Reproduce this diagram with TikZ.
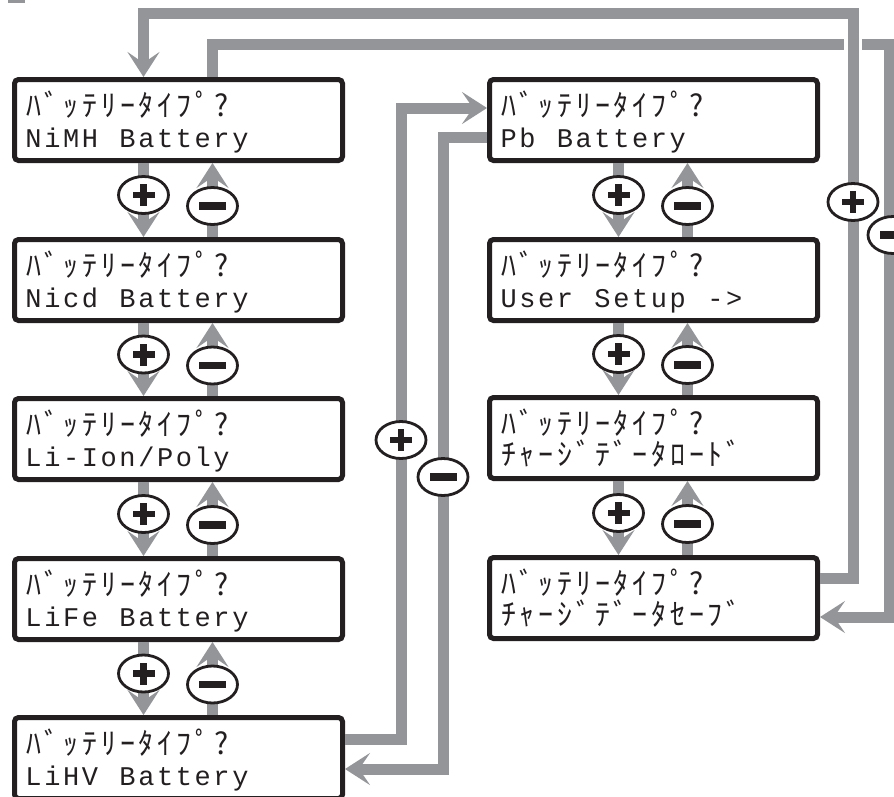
\documentclass[tikz,border=0pt]{standalone}
\usepackage{fontspec}
\usetikzlibrary{arrows.meta,calc,shapes.geometric}
\newfontfamily\latinlcd{Liberation Mono}
\newfontfamily\kanalcd{Noto Sans CJK JP}
\definecolor{flow}{HTML}{939598}
\definecolor{ink}{HTML}{231F20}
\newlength\lcdcell \setlength\lcdcell{18.8pt}
\makeatletter
\def\lcd@end{lcd@end@marker}
\def\lcdrun#1{\lcd@loop#1\lcd@end}
\def\lcd@loop#1{\ifx#1\lcd@end\else\makebox[\lcdcell][c]{#1}\expandafter\lcd@loop\fi}
\makeatother
\newcommand\kanasize{\fontsize{30pt}{30pt}\selectfont}
\newcommand\lcdpanel[4]{%
  \node[lcdframe] (#1) at (#2) {};
  \node[lcdtext, anchor=base west] (#1-1) at ($(#1.north west)+(12,39)$) {\kanalcd\kanasize\lcdrun{#3}};
  \node[lcdtext, anchor=base west] (#1-2) at ($(#1.north west)+(12,70)$) {#4};
}
\tikzset{
  lcdframe/.style={draw=ink, line width=5pt, rounded corners=4pt, fill=white,
    minimum width=328pt, minimum height=81pt, inner sep=0pt},
  lcdtext/.style={inner sep=0pt, text=ink, font=\fontsize{27pt}{27pt}\selectfont},
  flowline/.style={draw=flow, line width=11pt, line join=miter},
  flowarrow/.style={flowline, -{Stealth[length=25pt, width=32pt, inset=11pt]}},
  pm/.style={ellipse, draw=ink, line width=2.8pt, fill=white,
    minimum width=50pt, minimum height=37pt, inner sep=0pt},
  plusmark/.style={pm, path picture={
    \fill[ink] ($(path picture bounding box.center)+(-11,-3.3)$) rectangle ++(22,6.6);
    \fill[ink] ($(path picture bounding box.center)+(-3.3,-11)$) rectangle ++(6.6,22);}},
  minusmark/.style={pm, path picture={
    \fill[ink] ($(path picture bounding box.center)+(-13.5,-3.7)$) rectangle ++(27,7.4);}},
}
\begin{document}
\begin{tikzpicture}[x=1pt, y=-1pt]
\useasboundingbox (0,0) rectangle (894,796);
\fill[flow] (8,0) rectangle (25,3);

% left column
\lcdpanel{b1}{178.5,120}{ﾊﾞｯﾃﾘｰﾀｲﾌﾟ?}{\latinlcd\lcdrun{NiMH~Battery}}
\lcdpanel{b2}{178.5,280}{ﾊﾞｯﾃﾘｰﾀｲﾌﾟ?}{\latinlcd\lcdrun{Nicd~Battery}}
\lcdpanel{b3}{178.5,439}{ﾊﾞｯﾃﾘｰﾀｲﾌﾟ?}{\latinlcd\lcdrun{Li-Ion/Poly}}
\lcdpanel{b4}{178.5,599}{ﾊﾞｯﾃﾘｰﾀｲﾌﾟ?}{\latinlcd\lcdrun{LiFe~Battery}}
\lcdpanel{b5}{178.5,758}{ﾊﾞｯﾃﾘｰﾀｲﾌﾟ?}{\latinlcd\lcdrun{LiHV~Battery}}
% right column
\lcdpanel{pb}{653.5,120}{ﾊﾞｯﾃﾘｰﾀｲﾌﾟ?}{\latinlcd\lcdrun{Pb~Battery}}
\lcdpanel{us}{653.5,280}{ﾊﾞｯﾃﾘｰﾀｲﾌﾟ?}{\latinlcd\lcdrun{User~Setup~->}}
\lcdpanel{ld}{653.5,438}{ﾊﾞｯﾃﾘｰﾀｲﾌﾟ?}{\kanalcd\kanasize\lcdrun{ﾁｬｰｼﾞﾃﾞｰﾀﾛｰﾄﾞ}}
\lcdpanel{sv}{653.5,598}{ﾊﾞｯﾃﾘｰﾀｲﾌﾟ?}{\kanalcd\kanasize\lcdrun{ﾁｬｰｼﾞﾃﾞｰﾀｾｰﾌﾞ}}

% short links
\foreach \a/\b [count=\i] in {b1/b2,b2/b3,b3/b4,b4/b5,pb/us,us/ld,ld/sv}{
  \draw[flowarrow] ([xshift=-35pt]\a.south) -- ([xshift=-35pt]\b.north);
  \draw[flowarrow] ([xshift=34pt]\b.north) -- ([xshift=34pt]\a.south);
  \node[plusmark] (plus\i) at ($([xshift=-35pt]\a.south)!0.5!([xshift=-35pt]\b.north)+(0,-5)$) {};
  \node[minusmark] (minus\i) at ($([xshift=34pt]\a.south)!0.5!([xshift=34pt]\b.north)+(0,6)$) {};
}

% LiHV <-> Pb
\draw[flowarrow] ([yshift=19pt]b5.east) -- ++(56,0) |- ([yshift=12pt]pb.west);
\draw[flowarrow] ([yshift=-17pt]pb.west) -- ++(-44,0) |- ([yshift=-11pt]b5.east);
\node[plusmark] (plusM) at (401,440) {};
\node[minusmark] (minusM) at (443,477) {};

% save <-> NiMH
\coordinate (rc) at ($([yshift=-19pt]sv.east)+(69,0)$);
\draw[flowarrow] ([xshift=34pt]b1.north) -- ++(0,-33) -| (rc) -- ([yshift=-19pt]sv.east);
\draw[white, line width=18pt] (853,30) -- (853,58);
\draw[flowarrow] ([yshift=20pt]sv.east) -- ++(33,0) |- ($([xshift=-35pt]b1.north)+(0,-64)$) -- ([xshift=-35pt]b1.north);
\node[plusmark] (plusR) at (853,202) {};
\node[minusmark] (minusR) at (893,235) {};
\end{tikzpicture}
\end{document}
